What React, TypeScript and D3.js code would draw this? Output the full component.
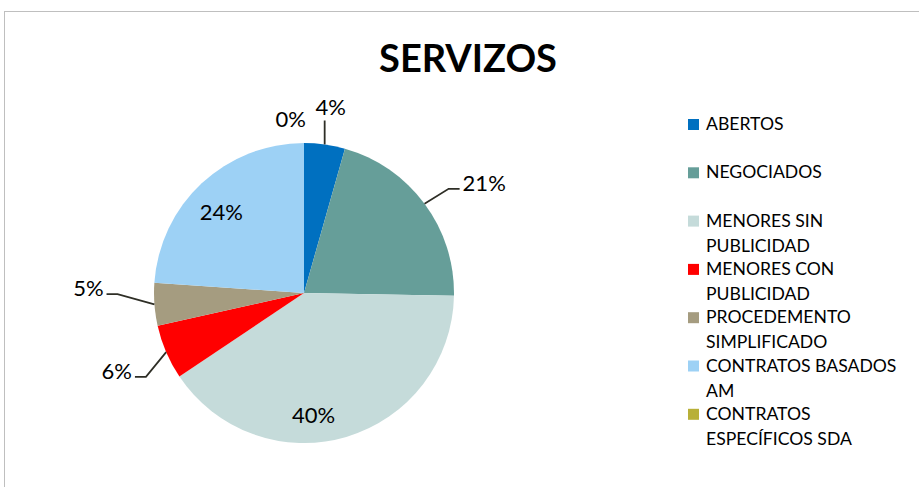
import React from "react";
import * as d3 from "d3";

const title = "SERVIZOS";
const categories = [
  "ABERTOS",
  "NEGOCIADOS",
  "MENORES SIN PUBLICIDAD",
  "MENORES CON PUBLICIDAD",
  "PROCEDEMENTO SIMPLIFICADO",
  "CONTRATOS BASADOS AM",
  "CONTRATOS ESPECÍFICOS SDA",
];
const values = [4.4, 20.9, 40.3, 5.9, 4.6, 23.9, 0.0];
const colors = ["#0070C0", "#669E99", "#C5DBDA", "#FF0000", "#A59C80", "#9DD1F5", "#B8B038"];
// label placement style (Excel best-fit imitation)
const placement = ["top", "outside", "inside", "outside", "outside", "inside", "zero"];
const leaderLen = [0, 30, 0, 22, 37, 0, 0];
const leaderNudge = [0, 3, 0, 16, -13, 0, 0];
const insideNudgeX = [0, 0, -23, 0, 0, -4, 0];
const insideNudgeY = [0, 0, 11, 0, 0, 3, 0];

const W = 919;
const H = 487;
const FONT = "Lato, 'Open Sans', sans-serif";

function measure(text: string, font: string) {
  const c = document.createElement("canvas").getContext("2d")!;
  c.font = font;
  return c.measureText(text).width;
}

function wrap(text: string, maxW: number, font: string) {
  const words = text.split(" ");
  const lines: string[] = [];
  let cur = "";
  for (const w of words) {
    const t = cur ? cur + " " + w : w;
    if (measure(t, font) > maxW && cur) {
      lines.push(cur);
      cur = w;
    } else cur = t;
  }
  if (cur) lines.push(cur);
  return lines;
}

export default function App() {
  const cx = 304;
  const cy = 293;
  const r = 150;
  const pie = d3.pie<number>().sort(null).value((d) => d);
  const arcs = pie(values);
  const arc = d3.arc<d3.PieArcDatum<number>>().innerRadius(0).outerRadius(r);
  const total = d3.sum(values);
  const fmt = (v: number) => `${Math.round((v / total) * 100)}%`;

  const labelFont = 22;
  const legendFont = 17.6;
  const legendFontStr = `${legendFont}px Lato`;
  const legendX = 688;
  const legendY0 = 119;
  const legendStep = 48.3;
  const lineH = 25;

  return (
    <svg
      width={W}
      height={H}
      style={{ position: "absolute", left: 0, top: 0, background: "#fff" }}
      fontFamily={FONT}
    >
      <rect x={4.5} y={11.5} width={W + 20} height={H + 20} fill="#fff" stroke="#BFBFBF" strokeWidth={1} />
      <text x={468} y={72} textAnchor="middle" fontSize={38} fontWeight={700} fill="#000">
        {title}
      </text>
      <g transform={`translate(${cx},${cy})`}>
        {arcs.map((a, i) => (
          <path key={i} d={arc(a) || ""} fill={colors[i]} />
        ))}
        {arcs.map((a, i) => {
          const mid = (a.startAngle + a.endAngle) / 2;
          const sx = Math.sin(mid);
          const sy = -Math.cos(mid);
          const label = fmt(a.data);
          const p = placement[i];
          if (p === "inside") {
            const rr = r * 0.77;
            return (
              <text key={i} x={sx * rr + insideNudgeX[i]} y={sy * rr + insideNudgeY[i]} textAnchor="middle" dominantBaseline="central" fontSize={labelFont} fill="#000">
                {label}
              </text>
            );
          }
          const ex = sx * r;
          const ey = sy * r;
          if (p === "zero") {
            return (
              <text key={i} x={ex + 2} y={ey - 16} textAnchor="end" fontSize={labelFont} fill="#000">
                {label}
              </text>
            );
          }
          if (p === "top") {
            const topY = -r * 1.15;
            return (
              <g key={i}>
                <line x1={ex} y1={ey} x2={ex} y2={topY} stroke="#2E2E26" strokeWidth={1.8} />
                <text x={ex + 6} y={topY - 6} textAnchor="middle" fontSize={labelFont} fill="#000">
                  {label}
                </text>
              </g>
            );
          }
          const L = leaderLen[i];
          const bx = ex + sx * L;
          const by = ey + sy * L + leaderNudge[i];
          const dir = sx >= 0 ? 1 : -1;
          const hx = bx + dir * 11;
          return (
            <g key={i}>
              <polyline points={`${ex},${ey} ${bx},${by} ${hx},${by}`} fill="none" stroke="#2E2E26" strokeWidth={1.8} />
              <text x={hx + dir * 3} y={by + 2} textAnchor={dir > 0 ? "start" : "end"} fontSize={labelFont} fill="#000">
                {label}
              </text>
            </g>
          );
        })}
      </g>
      <g>
        {categories.map((c, i) => {
          const y = legendY0 + i * legendStep;
          const lines = wrap(c, 205, legendFontStr);
          return (
            <g key={i}>
              <rect x={legendX} y={y} width={11} height={11} fill={colors[i]} />
              <text fontSize={legendFont} fill="#000">
                {lines.map((ln, j) => (
                  <tspan key={j} x={legendX + 18} y={y + 11 + j * lineH}>
                    {ln}
                  </tspan>
                ))}
              </text>
            </g>
          );
        })}
      </g>
    </svg>
  );
}
